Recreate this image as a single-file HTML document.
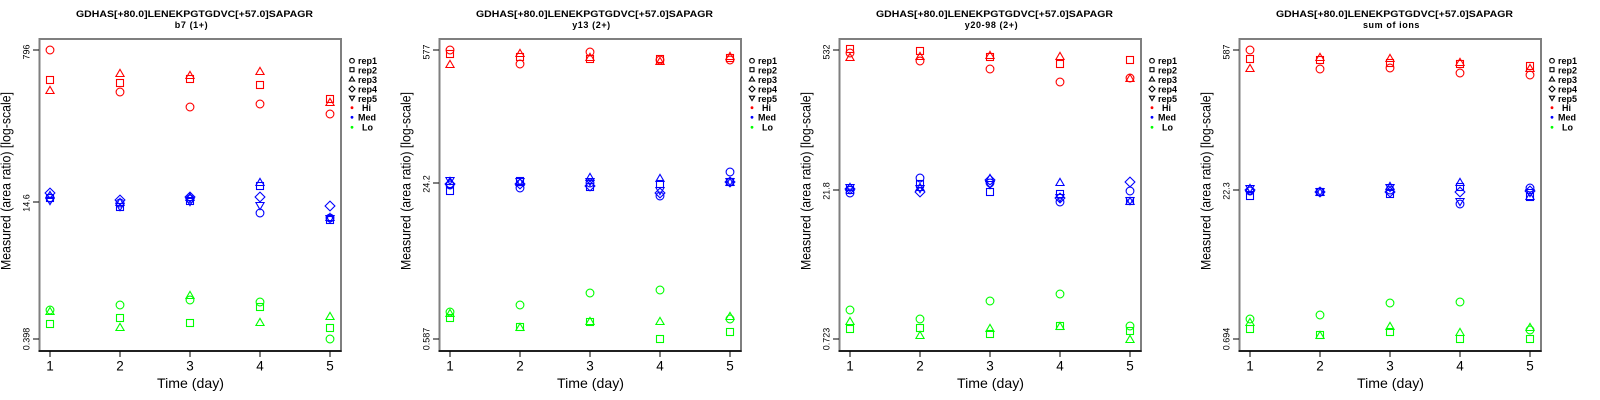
<!DOCTYPE html>
<html><head><meta charset="utf-8"><style>
html,body{margin:0;padding:0;background:#fff;}
svg{display:block;}
text{font-family:"Liberation Sans",Arial,sans-serif;fill:#000;}
</style></head><body>
<svg width="1600" height="400" viewBox="0 0 1600 400" xmlns="http://www.w3.org/2000/svg">
<defs>
<circle id="c" cx="0" cy="0" r="3.9"/>
<rect id="s" x="-3.5" y="-3.5" width="7" height="7"/>
<path id="t" d="M0,-3.6 L4.1,3.5 L-4.1,3.5 Z"/>
<path id="v" d="M0,3.6 L4.1,-3.5 L-4.1,-3.5 Z"/>
<path id="d" d="M0,-4.9 L4.9,0 L0,4.9 L-4.9,0 Z"/>
<g id="frame">
<rect x="39.5" y="39" width="301.5" height="312" fill="none" stroke="#7f7f7f" stroke-width="2"/>
<line x1="38.5" y1="351" x2="341.5" y2="351" stroke="#000" stroke-width="1.4"/>
<g stroke="#000" stroke-width="1">
<line x1="50" y1="351" x2="50" y2="357"/><line x1="120" y1="351" x2="120" y2="357"/><line x1="190" y1="351" x2="190" y2="357"/><line x1="260" y1="351" x2="260" y2="357"/><line x1="330" y1="351" x2="330" y2="357"/>
<line x1="33" y1="50" x2="39" y2="50"/><line x1="33" y1="339" x2="39" y2="339"/>
</g>
<g font-size="13.5" text-anchor="middle">
<text x="50" y="370.5">1</text><text x="120" y="370.5">2</text><text x="190" y="370.5">3</text><text x="260" y="370.5">4</text><text x="330" y="370.5">5</text>
</g>
<text x="190.5" y="388" font-size="14" text-anchor="middle" textLength="67" lengthAdjust="spacingAndGlyphs">Time (day)</text>
<text transform="translate(10.5,181) rotate(-90)" font-size="14" text-anchor="middle" textLength="178" lengthAdjust="spacingAndGlyphs">Measured (area ratio) [log-scale]</text>
<text x="76" y="17" font-size="9" font-weight="bold" textLength="237" lengthAdjust="spacingAndGlyphs">GDHAS[+80.0]LENEKPGTGDVC[+57.0]SAPAGR</text>
<g font-size="9" font-weight="bold">
<text x="358" y="64">rep1</text><text x="358" y="73.5">rep2</text><text x="358" y="83">rep3</text><text x="358" y="92.5">rep4</text><text x="358" y="102">rep5</text>
<text x="362" y="111">Hi</text><text x="358" y="120.5">Med</text><text x="362" y="130.5">Lo</text>
</g>
<g fill="none" stroke="#000" stroke-width="1.1">
<circle cx="352" cy="60.7" r="2.3"/>
<rect x="350" y="67.7" width="4" height="4"/>
<path d="M352,76.6 L354.6,81 L349.4,81 Z"/>
<path d="M352,86 L355,89 L352,92 L349,89 Z"/>
<path d="M352,100.6 L354.6,96.2 L349.4,96.2 Z"/>
</g>
<circle cx="352" cy="107.7" r="1.4" fill="#f00"/>
<circle cx="352" cy="117.3" r="1.4" fill="#00f"/>
<circle cx="352" cy="127.3" r="1.4" fill="#0f0"/>
</g>
</defs>

<!-- Panel 1 -->
<g>
<use href="#frame"/>
<line x1="33" y1="202" x2="39" y2="202" stroke="#000"/>
<g font-size="9" text-anchor="middle">
<text transform="translate(29.5,52) rotate(-90)">796</text>
<text transform="translate(29.5,203) rotate(-90)">14.6</text>
<text transform="translate(29.5,339) rotate(-90)">0.398</text>
</g>
<text x="191.5" y="28" font-size="9" font-weight="bold" text-anchor="middle" letter-spacing="0.6">b7 (1+)</text>
<g fill="none" stroke="#f00" stroke-width="1.1">
<use href="#c" x="50" y="50"/><use href="#s" x="50" y="80"/><use href="#t" x="50" y="90"/>
<use href="#t" x="120" y="73"/><use href="#s" x="120" y="83"/><use href="#c" x="120" y="92"/>
<use href="#t" x="190" y="75"/><use href="#s" x="190" y="79"/><use href="#c" x="190" y="107"/>
<use href="#t" x="260" y="71"/><use href="#s" x="260" y="85"/><use href="#c" x="260" y="104"/>
<use href="#s" x="330" y="99"/><use href="#t" x="330" y="102"/><use href="#c" x="330" y="114"/>
</g>
<g fill="none" stroke="#00f" stroke-width="1.1">
<use href="#d" x="50" y="193"/><use href="#t" x="50" y="195"/><use href="#s" x="50" y="198"/><use href="#c" x="50" y="198"/><use href="#v" x="50" y="201"/>
<use href="#d" x="120" y="200"/><use href="#t" x="120" y="202"/><use href="#c" x="120" y="203"/><use href="#s" x="120" y="207"/><use href="#v" x="120" y="207"/>
<use href="#d" x="190" y="197"/><use href="#t" x="190" y="197"/><use href="#c" x="190" y="199"/><use href="#s" x="190" y="201"/><use href="#v" x="190" y="202"/>
<use href="#t" x="260" y="182"/><use href="#s" x="260" y="186"/><use href="#d" x="260" y="197"/><use href="#v" x="260" y="206"/><use href="#c" x="260" y="213"/>
<use href="#d" x="330" y="206"/><use href="#t" x="330" y="217"/><use href="#c" x="330" y="218"/><use href="#s" x="330" y="220"/><use href="#v" x="330" y="219"/>
</g>
<g fill="none" stroke="#0f0" stroke-width="1.1">
<use href="#c" x="50" y="310"/><use href="#t" x="50" y="311"/><use href="#s" x="50" y="324"/>
<use href="#c" x="120" y="305"/><use href="#s" x="120" y="318"/><use href="#t" x="120" y="327"/>
<use href="#t" x="190" y="295"/><use href="#c" x="190" y="300"/><use href="#s" x="190" y="323"/>
<use href="#c" x="260" y="302"/><use href="#s" x="260" y="307"/><use href="#t" x="260" y="322"/>
<use href="#t" x="330" y="316"/><use href="#s" x="330" y="328"/><use href="#c" x="330" y="339"/>
</g>
</g>

<!-- Panel 2 -->
<g transform="translate(400,0)">
<use href="#frame"/>
<line x1="33" y1="183" x2="39" y2="183" stroke="#000"/>
<g font-size="9" text-anchor="middle">
<text transform="translate(29.5,52) rotate(-90)">577</text>
<text transform="translate(29.5,184) rotate(-90)">24.2</text>
<text transform="translate(29.5,339) rotate(-90)">0.587</text>
</g>
<text x="191.5" y="28" font-size="9" font-weight="bold" text-anchor="middle" letter-spacing="0.6">y13 (2+)</text>
<g fill="none" stroke="#f00" stroke-width="1.1">
<use href="#c" x="50" y="50"/><use href="#s" x="50" y="54"/><use href="#t" x="50" y="64"/>
<use href="#t" x="120" y="53"/><use href="#s" x="120" y="57"/><use href="#c" x="120" y="64"/>
<use href="#c" x="190" y="52"/><use href="#t" x="190" y="57"/><use href="#s" x="190" y="59"/>
<use href="#s" x="260" y="59"/><use href="#t" x="260" y="61"/><use href="#c" x="260" y="60"/>
<use href="#t" x="330" y="56"/><use href="#s" x="330" y="58"/><use href="#c" x="330" y="60"/>
</g>
<g fill="none" stroke="#00f" stroke-width="1.1">
<use href="#t" x="50" y="181"/><use href="#v" x="50" y="181"/><use href="#d" x="50" y="184"/><use href="#c" x="50" y="185"/><use href="#s" x="50" y="191"/>
<use href="#s" x="120" y="181"/><use href="#v" x="120" y="182"/><use href="#t" x="120" y="182"/><use href="#d" x="120" y="184"/><use href="#c" x="120" y="188"/>
<use href="#t" x="190" y="177"/><use href="#v" x="190" y="182"/><use href="#c" x="190" y="183"/><use href="#d" x="190" y="186"/><use href="#s" x="190" y="187"/>
<use href="#t" x="260" y="178"/><use href="#s" x="260" y="184"/><use href="#v" x="260" y="191"/><use href="#d" x="260" y="193"/><use href="#c" x="260" y="196"/>
<use href="#c" x="330" y="172"/><use href="#s" x="330" y="182"/><use href="#d" x="330" y="182"/><use href="#t" x="330" y="182"/><use href="#v" x="330" y="182"/>
</g>
<g fill="none" stroke="#0f0" stroke-width="1.1">
<use href="#c" x="50" y="312"/><use href="#t" x="50" y="313"/><use href="#s" x="50" y="318"/>
<use href="#c" x="120" y="305"/><use href="#s" x="120" y="327"/><use href="#t" x="120" y="327"/>
<use href="#c" x="190" y="293"/><use href="#s" x="190" y="322"/><use href="#t" x="190" y="321"/>
<use href="#c" x="260" y="290"/><use href="#t" x="260" y="321"/><use href="#s" x="260" y="339"/>
<use href="#t" x="330" y="316"/><use href="#c" x="330" y="319"/><use href="#s" x="330" y="332"/>
</g>
</g>

<!-- Panel 3 -->
<g transform="translate(800,0)">
<use href="#frame"/>
<line x1="33" y1="190" x2="39" y2="190" stroke="#000"/>
<g font-size="9" text-anchor="middle">
<text transform="translate(29.5,52) rotate(-90)">532</text>
<text transform="translate(29.5,191) rotate(-90)">21.8</text>
<text transform="translate(29.5,339) rotate(-90)">0.723</text>
</g>
<text x="191.5" y="28" font-size="9" font-weight="bold" text-anchor="middle" letter-spacing="0.6">y20-98 (2+)</text>
<g fill="none" stroke="#f00" stroke-width="1.1">
<use href="#s" x="50" y="49"/><use href="#c" x="50" y="53"/><use href="#t" x="50" y="57"/>
<use href="#s" x="120" y="51"/><use href="#t" x="120" y="56"/><use href="#c" x="120" y="61"/>
<use href="#t" x="190" y="55"/><use href="#s" x="190" y="57"/><use href="#c" x="190" y="69"/>
<use href="#t" x="260" y="56"/><use href="#s" x="260" y="64"/><use href="#c" x="260" y="82"/>
<use href="#s" x="330" y="60"/><use href="#t" x="330" y="78"/><use href="#c" x="330" y="78"/>
</g>
<g fill="none" stroke="#00f" stroke-width="1.1">
<use href="#t" x="50" y="187"/><use href="#v" x="50" y="188"/><use href="#d" x="50" y="189"/><use href="#s" x="50" y="190"/><use href="#c" x="50" y="193"/>
<use href="#c" x="120" y="178"/><use href="#s" x="120" y="184"/><use href="#t" x="120" y="187"/><use href="#v" x="120" y="189"/><use href="#d" x="120" y="192"/>
<use href="#t" x="190" y="178"/><use href="#d" x="190" y="180"/><use href="#c" x="190" y="183"/><use href="#v" x="190" y="185"/><use href="#s" x="190" y="192"/>
<use href="#t" x="260" y="182"/><use href="#s" x="260" y="194"/><use href="#d" x="260" y="198"/><use href="#v" x="260" y="198"/><use href="#c" x="260" y="202"/>
<use href="#d" x="330" y="182"/><use href="#c" x="330" y="191"/><use href="#s" x="330" y="201"/><use href="#t" x="330" y="201"/><use href="#v" x="330" y="201"/>
</g>
<g fill="none" stroke="#0f0" stroke-width="1.1">
<use href="#c" x="50" y="310"/><use href="#t" x="50" y="321"/><use href="#s" x="50" y="329"/>
<use href="#c" x="120" y="319"/><use href="#s" x="120" y="328"/><use href="#t" x="120" y="335"/>
<use href="#c" x="190" y="301"/><use href="#t" x="190" y="328"/><use href="#s" x="190" y="334"/>
<use href="#c" x="260" y="294"/><use href="#t" x="260" y="326"/><use href="#s" x="260" y="326"/>
<use href="#c" x="330" y="326"/><use href="#s" x="330" y="331"/><use href="#t" x="330" y="339"/>
</g>
</g>

<!-- Panel 4 -->
<g transform="translate(1200,0)">
<use href="#frame"/>
<line x1="33" y1="190" x2="39" y2="190" stroke="#000"/>
<g font-size="9" text-anchor="middle">
<text transform="translate(29.5,52) rotate(-90)">587</text>
<text transform="translate(29.5,191) rotate(-90)">22.3</text>
<text transform="translate(29.5,339) rotate(-90)">0.694</text>
</g>
<text x="191.5" y="28" font-size="9" font-weight="bold" text-anchor="middle" letter-spacing="0.6">sum of ions</text>
<g fill="none" stroke="#f00" stroke-width="1.1">
<use href="#c" x="50" y="50"/><use href="#s" x="50" y="59"/><use href="#t" x="50" y="68"/>
<use href="#t" x="120" y="57"/><use href="#s" x="120" y="60"/><use href="#c" x="120" y="69"/>
<use href="#t" x="190" y="58"/><use href="#s" x="190" y="63"/><use href="#c" x="190" y="68"/>
<use href="#t" x="260" y="62"/><use href="#s" x="260" y="64"/><use href="#c" x="260" y="73"/>
<use href="#s" x="330" y="66"/><use href="#t" x="330" y="68"/><use href="#c" x="330" y="75"/>
</g>
<g fill="none" stroke="#00f" stroke-width="1.1">
<use href="#t" x="50" y="188"/><use href="#v" x="50" y="189"/><use href="#d" x="50" y="190"/><use href="#c" x="50" y="191"/><use href="#s" x="50" y="196"/>
<use href="#s" x="120" y="192"/><use href="#c" x="120" y="192"/><use href="#d" x="120" y="192"/><use href="#t" x="120" y="192"/><use href="#v" x="120" y="192"/>
<use href="#t" x="190" y="186"/><use href="#v" x="190" y="188"/><use href="#c" x="190" y="190"/><use href="#d" x="190" y="192"/><use href="#s" x="190" y="194"/>
<use href="#t" x="260" y="182"/><use href="#s" x="260" y="187"/><use href="#d" x="260" y="192"/><use href="#v" x="260" y="202"/><use href="#c" x="260" y="204"/>
<use href="#c" x="330" y="188"/><use href="#d" x="330" y="191"/><use href="#v" x="330" y="193"/><use href="#t" x="330" y="196"/><use href="#s" x="330" y="197"/>
</g>
<g fill="none" stroke="#0f0" stroke-width="1.1">
<use href="#c" x="50" y="319"/><use href="#t" x="50" y="322"/><use href="#s" x="50" y="329"/>
<use href="#c" x="120" y="315"/><use href="#s" x="120" y="335"/><use href="#t" x="120" y="335"/>
<use href="#c" x="190" y="303"/><use href="#t" x="190" y="326"/><use href="#s" x="190" y="332"/>
<use href="#c" x="260" y="302"/><use href="#t" x="260" y="332"/><use href="#s" x="260" y="339"/>
<use href="#t" x="330" y="327"/><use href="#c" x="330" y="330"/><use href="#s" x="330" y="339"/>
</g>
</g>
</svg>
</body></html>
